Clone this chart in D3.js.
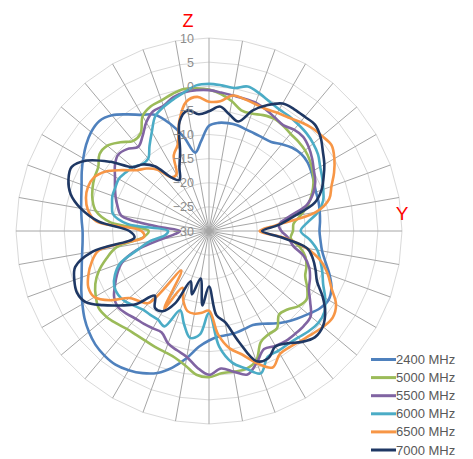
<!DOCTYPE html>
<html>
<head>
<meta charset="utf-8">
<script src="https://cdn.jsdelivr.net/npm/d3@7"></script>
<style>
body { margin: 0; background: #fff; }
svg { display: block; font-family: "Liberation Sans", Arial, sans-serif; }
</style>
</head>
<body>
<div id="chart"></div>
<script>
// angle of each sample, degrees clockwise from Z
var angles = [0, 5, 10, 15, 20, 25, 30, 35, 40, 45, 50, 55, 60, 65, 70, 75, 80, 85,
    90, 95, 100, 105, 110, 115, 120, 125, 130, 135, 140, 145, 150, 155, 160, 165, 170, 175,
    180, 185, 190, 195, 200, 205, 210, 215, 220, 225, 230, 235, 240, 245, 250, 255, 260, 265,
    270, 275, 280, 285, 290, 295, 300, 305, 310, 315, 320, 325, 330, 335, 340, 345, 350, 355];

var ticks = [-30, -25, -20, -15, -10, -5, 0, 5, 10];

var names = ["2400 MHz", "5000 MHz", "5500 MHz", "6000 MHz", "6500 MHz", "7000 MHz"];

var s2400 = [-8.2, -7.5, -7.3, -7.3, -7.6, -7.7, -7.7, -7.5, -6.5, -5.6,
    -5.1, -5.1, -5.5, -6.0, -6.4, -6.5, -6.7, -6.9, -7.1, -6.8,
    -6.2, -5.0, -3.4, -2.0, -1.4, -2.0, -3.2, -4.3, -5.4, -6.6,
    -7.8, -8.5, -8.4, -8.2, -8.1, -8.0, -7.3, -5.9, -3.2, -0.7,
    1.3, 2.5, 3.3, 3.8, 3.7, 3.3, 2.5, 1.5, 0.3, -0.8,
    -1.9, -2.7, -3.3, -3.7, -3.8, -3.5, -3.1, -2.6, -1.9, -0.9,
    0.1, 1.1, 1.9, 2.2, 1.3, -0.5, -2.2, -3.4, -6.3, -9.8,
    -13.5, -11.3];

var s5000 = [-0.7, -1.5, -2.7, -4.1, -4.1, -3.5, -3.1, -3.3, -3.7, -3.8,
    -4.0, -4.5, -5.2, -6.1, -7.3, -8.7, -10.6, -12.4, -12.6, -13.0,
    -10.9, -9.3, -8.5, -8.0, -6.5, -5.3, -5.8, -7.0, -7.4, -5.4,
    -5.3, -4.6, -1.4, -0.4, -0.4, -0.4, 0.3, -0.1, -1.7, -2.8,
    -3.3, -3.5, -3.7, -3.7, -3.5, -2.9, -2.3, -2.1, -2.9, -4.0,
    -5.7, -8.0, -10.5, -16.5, -17.5, -9.5, -6.2, -5.0, -4.3, -3.8,
    -3.5, -2.3, -2.5, -4.0, -5.6, -5.3, -2.5, -1.5, -1.2, -0.6,
    -0.1, -0.3];

var s5500 = [-0.8, -1.2, -1.5, -1.6, -1.7, -2.2, -2.8, -3.2, -2.6, -2.4,
    -3.0, -3.9, -4.9, -5.7, -7.0, -9.0, -13.2, -15.5, -15.0, -13.5,
    -12.3, -9.6, -7.9, -6.9, -6.1, -4.4, -2.5, -2.2, -2.2, -2.2,
    -2.5, -3.0, -1.0, 0.8, -0.4, -1.4, -0.2, -1.6, -3.5, -4.4,
    -5.2, -6.8, -6.7, -6.5, -6.3, -5.8, -5.4, -6.0, -7.5, -9.0,
    -10.8, -14.3, -19.8, -23.0, -24.0, -19.0, -11.5, -10.4, -9.4, -8.5,
    -7.5, -6.2, -5.4, -6.0, -7.2, -6.0, -4.0, -2.6, -2.4, -1.3,
    -0.8, -0.7];

var s6000 = [0.5, 0.3, 0.1, 1.0, 0.4, -0.4, -0.9, -1.0, -1.2, -1.4,
    -1.8, -2.4, -3.4, -4.1, -4.8, -5.5, -7.0, -9.5, -11.0, -9.0,
    -7.2, -6.1, -5.0, -3.9, -2.2, -0.8, -0.4, -0.7, -1.2, -1.4,
    -1.3, -1.2, 1.4, -0.5, -2.3, -6.0, -13.0, -8.5, -7.5, -10.0,
    -12.5, -8.2, -8.8, -8.8, -8.7, -8.1, -7.3, -7.0, -7.3, -8.5,
    -10.4, -14.5, -17.5, -21.0, -21.5, -13.0, -9.8, -9.2, -8.7, -8.6,
    -8.4, -8.9, -9.4, -10.4, -10.4, -8.5, -6.3, -3.7, -2.6, -1.7,
    -0.8, 0.3];

var s6500 = [-3.2, -3.0, -1.5, -1.7, -2.0, -2.1, -1.7, -1.3, -0.5, 0.2,
    0.6, 1.0, 0.0, -1.4, -3.0, -4.2, -7.5, -16.0, -19.5, -14.5,
    -9.5, -6.0, -3.8, -2.0, 0.4, 1.3, 0.9, 0.2, -0.3, -0.7,
    -0.6, 1.2, -0.8, -3.5, -5.3, -8.5, -13.5, -13.0, -12.6, -12.8,
    -14.5, -17.0, -11.5, -20.0, -10.5, -9.5, -8.4, -5.0, -2.6, -2.4,
    -3.4, -4.8, -6.8, -16.5, -16.0, -6.5, -4.5, -3.6, -3.3, -3.7,
    -5.3, -8.0, -10.4, -11.7, -13.4, -16.4, -16.5, -12.7, -11.0, -6.3,
    -2.8, -2.1];

var s7000 = [-5.2, -4.1, -5.5, -6.5, -3.4, -1.2, 0.5, 0.8, 0.9, 1.1,
    0.2, -1.2, -2.4, -3.8, -5.2, -7.3, -12.0, -15.5, -19.0, -15.0,
    -9.3, -7.7, -6.5, -5.3, -2.8, -0.6, 0.8, 1.1, 0.0, -1.6,
    -2.4, -0.9, -1.3, -6.3, -10.8, -12.5, -18.5, -14.5, -20.0, -16.4,
    -18.9, -13.5, -10.8, -10.5, -12.5, -8.5, -6.0, -3.2, -0.5, 0.2,
    -0.3, -1.3, -5.5, -14.5, -13.5, -7.0, -3.0, -0.3, 1.0, 1.4,
    -0.8, -5.0, -9.4, -10.5, -12.5, -16.5, -17.8, -15.5, -12.5, -6.5,
    -4.6, -5.7];

var series = [s2400, s5000, s5500, s6000, s6500, s7000];
var colors = ["#4f81bd", "#9bbb59", "#8064a2", "#4bacc6", "#f79646", "#1f3864"];

var width = 473, height = 459;
var cx = 209, cy = 231, outer = 193;

var svg = d3.select("#chart").append("svg")
    .attr("width", width)
    .attr("height", height);

var r = d3.scaleLinear().domain([-30, 10]).range([0, outer]);
var ang = d3.scaleLinear().domain([0, 360]).range([0, 2 * Math.PI]);

var g = svg.append("g")
    .attr("transform", "translate(" + cx + "," + cy + ")");

// spokes every 10 degrees
var spokes = angles.filter(function(d) { return d % 10 == 0; });

var ring = d3.lineRadial()
    .curve(d3.curveLinearClosed)
    .angle(function(d) { return ang(d); });

g.selectAll(".ring")
    .data(ticks.slice(1))
    .enter().append("path")
    .attr("class", "ring")
    .attr("d", function(t) { return ring.radius(r(t))(spokes); })
    .attr("fill", "none")
    .attr("stroke", "#d9d9d9")
    .attr("stroke-width", 1);

g.selectAll(".spoke")
    .data(spokes)
    .enter().append("line")
    .attr("class", "spoke")
    .attr("x1", 0)
    .attr("y1", 0)
    .attr("x2", function(d) { return r(10) * Math.sin(ang(d)); })
    .attr("y2", function(d) { return -r(10) * Math.cos(ang(d)); })
    .attr("stroke", "#a6a6a6")
    .attr("stroke-width", 1);

// value labels up the Z spoke
var y = d3.scaleLinear().domain([-30, 10]).range([cy, cy - outer]);
var yAxis = svg.append("g")
    .attr("transform", "translate(" + (cx - 13) + ",0)")
    .call(d3.axisLeft(y).tickValues(ticks).tickSize(0).tickPadding(2));
yAxis.select(".domain").remove();
yAxis.selectAll("text")
    .attr("fill", "#8c8c8c")
    .style("font-size", "12.5px")
    .style("font-family", "Liberation Sans, Arial, sans-serif");

// series
var line = d3.lineRadial()
    .curve(d3.curveCatmullRomClosed.alpha(0.5))
    .angle(function(d, i) { return ang(angles[i]); })
    .radius(function(d) { return r(d); });

g.selectAll(".series")
    .data(series)
    .enter().append("path")
    .attr("class", "series")
    .attr("d", function(d) { return line(d); })
    .attr("fill", "none")
    .attr("stroke", function(d, i) { return colors[i]; })
    .attr("stroke-width", 2.6)
    .attr("stroke-linejoin", "round");

// axis names
svg.append("text")
    .attr("x", 188)
    .attr("y", 27)
    .attr("text-anchor", "middle")
    .attr("fill", "#ff0000")
    .style("font-size", "18px")
    .text("Z");

svg.append("text")
    .attr("x", 402)
    .attr("y", 220)
    .attr("text-anchor", "middle")
    .attr("fill", "#ff0000")
    .style("font-size", "19px")
    .text("Y");

// legend
var legend = svg.selectAll(".legend")
    .data(names)
    .enter().append("g")
    .attr("class", "legend")
    .attr("transform", function(d, i) { return "translate(371," + (359.5 + i * 18.1) + ")"; });

legend.append("line")
    .attr("x1", 0)
    .attr("x2", 25)
    .attr("y1", 0)
    .attr("y2", 0)
    .attr("stroke", function(d, i) { return colors[i]; })
    .attr("stroke-width", 3);

legend.append("text")
    .attr("x", 25)
    .attr("y", 0)
    .attr("dy", "0.35em")
    .attr("fill", "#595959")
    .style("font-size", "13px")
    .text(function(d) { return d; });
</script>
</body>
</html>
